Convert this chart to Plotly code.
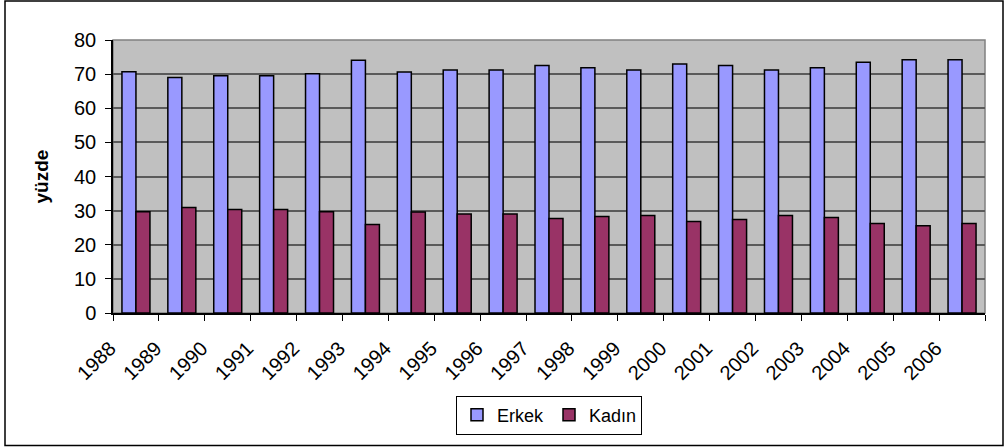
import plotly.graph_objects as go

years = [str(y) for y in range(1988, 2007)]
erkek = [70.7, 69.0, 69.5, 69.5, 70.1, 74.1, 70.6, 71.2, 71.2, 72.5,
         71.9, 71.2, 73.0, 72.5, 71.2, 71.9, 73.5, 74.2, 74.2]
kadin = [29.7, 30.9, 30.3, 30.3, 29.7, 25.9, 29.6, 29.0, 29.0, 27.7,
         28.3, 28.6, 26.8, 27.4, 28.6, 28.0, 26.2, 25.6, 26.2]

FONT = "Liberation Sans, Arial, sans-serif"

fig = go.Figure()
fig.add_trace(go.Bar(x=years, y=erkek, name="Erkek",
                     marker=dict(color="#9999FF", line=dict(color="#000000", width=1.5))))
fig.add_trace(go.Bar(x=years, y=kadin, name="Kadın",
                     marker=dict(color="#993366", line=dict(color="#000000", width=1.5))))

L, R, T, B = 113, 985, 40, 313.3
W, H = 1007, 448
pw, ph = R - L, B - T

def px_x(v):
    return (v - L) / pw

def px_y(v):
    return (B - v) / ph

fig.update_layout(
    width=W, height=H,
    margin=dict(l=L, r=W - R, t=T, b=H - B, autoexpand=False),
    paper_bgcolor="white",
    plot_bgcolor="#C0C0C0",
    barmode="group",
    bargap=0.39,
    bargroupgap=0,
    font=dict(family=FONT, size=17, color="#000000"),
    showlegend=True,
    legend=dict(orientation="h", x=0.5, xanchor="center",
                y=px_y(396), yanchor="top",
                bordercolor="#000000", borderwidth=1,
                bgcolor="white", font=dict(size=18, family=FONT),
                itemwidth=30, entrywidth=47, tracegroupgap=0),
    shapes=[
        dict(type="rect", xref="paper", yref="paper",
             x0=0, x1=1, y0=0, y1=1,
             line=dict(color="#808080", width=1.5), layer="below"),
        dict(type="rect", xref="paper", yref="paper",
             x0=px_x(5), x1=px_x(1003), y0=px_y(446), y1=px_y(1),
             line=dict(color="#000000", width=1.5), fillcolor="rgba(0,0,0,0)"),
    ],
)

fig.update_xaxes(
    type="category",
    tickangle=-45,
    ticks="outside", ticklen=6, tickcolor="#000000", tickwidth=1,
    tickson="boundaries",
    showline=True, linecolor="#000000", linewidth=1.5,
    showgrid=False,
    tickfont=dict(size=20, family=FONT),
    ticklabelstandoff=14,
    ticklabelshift=-26,
)
fig.update_yaxes(
    range=[0, 80], dtick=10,
    ticks="outside", ticklen=6, tickcolor="#000000", tickwidth=1,
    showline=True, linecolor="#000000", linewidth=1.5,
    showgrid=True, gridcolor="#5A5A5A", gridwidth=1.5,
    zeroline=False,
    tickfont=dict(size=20, family=FONT),
    ticklabelstandoff=5,
    title=dict(text="<b>yüzde</b>", font=dict(size=19, family=FONT), standoff=20),
)

fig.write_html("out.html", config={"displayModeBar": False},
               post_script="document.body.style.margin='0';document.body.style.padding='0';")
